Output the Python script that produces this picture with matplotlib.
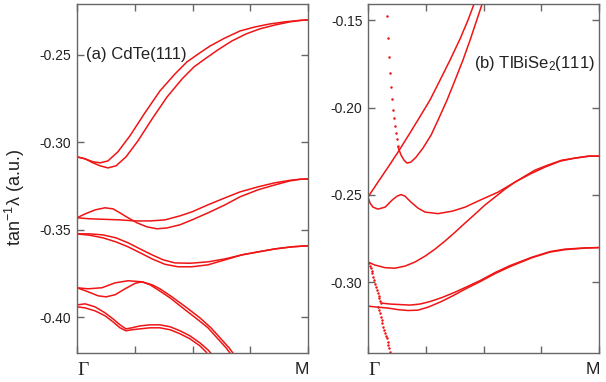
import numpy as np
import matplotlib
matplotlib.use('Agg')
import matplotlib.pyplot as plt

# ---- (a) CdTe(111) : k along Gamma-M (0..1), tan^-1(lambda) ----
a_k1 = [0, 0.035, 0.069, 0.100, 0.134, 0.177, 0.229, 0.294, 0.359, 0.424, 0.476, 0.519, 0.576, 0.641, 0.706, 0.771, 0.835, 0.900, 0.965, 1.0]
a_e1 = [-0.3083, -0.3094, -0.3111, -0.3117, -0.3106, -0.3054, -0.2963, -0.2831, -0.2706, -0.2609, -0.2540, -0.2500, -0.2449, -0.2403, -0.2363, -0.2340, -0.2323, -0.2311, -0.2303, -0.2300]
a_k2 = [0, 0.035, 0.069, 0.100, 0.134, 0.169, 0.212, 0.264, 0.325, 0.390, 0.455, 0.506, 0.554, 0.610, 0.671, 0.732, 0.792, 0.857, 0.922, 0.965, 1.0]
a_e2 = [-0.3083, -0.3094, -0.3117, -0.3134, -0.3146, -0.3134, -0.3083, -0.2991, -0.2866, -0.2740, -0.2637, -0.2569, -0.2523, -0.2471, -0.2420, -0.2380, -0.2351, -0.2329, -0.2311, -0.2303, -0.2300]
a_k3 = [0, 0.035, 0.078, 0.121, 0.156, 0.186, 0.221, 0.260, 0.303, 0.346, 0.390, 0.446, 0.498, 0.567, 0.641, 0.706, 0.784, 0.857, 0.922, 0.965, 1.0]
a_e3 = [-0.3431, -0.3409, -0.3386, -0.3374, -0.3380, -0.3403, -0.3431, -0.3460, -0.3483, -0.3494, -0.3489, -0.3471, -0.3443, -0.3403, -0.3357, -0.3311, -0.3271, -0.3243, -0.3220, -0.3211, -0.3209]
a_k4 = [0, 0.056, 0.121, 0.186, 0.251, 0.316, 0.381, 0.446, 0.498, 0.567, 0.641, 0.706, 0.784, 0.857, 0.922, 0.965, 1.0]
a_e4 = [-0.3431, -0.3437, -0.3440, -0.3443, -0.3449, -0.3449, -0.3443, -0.3420, -0.3397, -0.3357, -0.3317, -0.3283, -0.3254, -0.3231, -0.3217, -0.3211, -0.3209]
a_k5 = [0, 0.056, 0.113, 0.169, 0.221, 0.273, 0.325, 0.372, 0.424, 0.489, 0.567, 0.641, 0.714, 0.784, 0.857, 0.931, 1.0]
a_e5 = [-0.3523, -0.3523, -0.3529, -0.3546, -0.3574, -0.3609, -0.3643, -0.3671, -0.3689, -0.3691, -0.3683, -0.3666, -0.3643, -0.3626, -0.3609, -0.3597, -0.3591]
a_k6 = [0, 0.056, 0.113, 0.169, 0.221, 0.273, 0.325, 0.381, 0.437, 0.498, 0.567, 0.619, 0.671, 0.714, 0.784, 0.857, 0.931, 1.0]
a_e6 = [-0.3523, -0.3531, -0.3546, -0.3569, -0.3597, -0.3631, -0.3666, -0.3697, -0.3711, -0.3711, -0.3700, -0.3680, -0.3660, -0.3643, -0.3626, -0.3609, -0.3597, -0.3591]
a_k7 = [0, 0.048, 0.108, 0.165, 0.221, 0.281, 0.316, 0.351, 0.403, 0.468, 0.519, 0.567, 0.610, 0.645, 0.671]
a_e7 = [-0.3831, -0.3837, -0.3831, -0.3803, -0.3791, -0.3797, -0.3814, -0.3843, -0.3889, -0.3957, -0.4009, -0.4060, -0.4123, -0.4174, -0.4220]
a_k8 = [0, 0.048, 0.091, 0.126, 0.165, 0.208, 0.251, 0.281, 0.325, 0.359, 0.411, 0.476, 0.532, 0.580, 0.623, 0.658, 0.684]
a_e8 = [-0.3831, -0.3854, -0.3877, -0.3883, -0.3871, -0.3837, -0.3806, -0.3797, -0.3814, -0.3837, -0.3883, -0.3946, -0.4003, -0.4060, -0.4123, -0.4174, -0.4220]
a_k9 = [0, 0.035, 0.078, 0.121, 0.156, 0.186, 0.212, 0.238, 0.273, 0.316, 0.359, 0.403, 0.446, 0.489, 0.532, 0.567, 0.589]
a_e9 = [-0.3929, -0.3923, -0.3940, -0.3974, -0.4009, -0.4043, -0.4066, -0.4060, -0.4049, -0.4043, -0.4043, -0.4054, -0.4077, -0.4106, -0.4146, -0.4186, -0.4220]
a_k10 = [0, 0.035, 0.078, 0.121, 0.156, 0.186, 0.212, 0.238, 0.273, 0.316, 0.359, 0.403, 0.446, 0.489, 0.532, 0.558, 0.571]
a_e10 = [-0.3940, -0.3946, -0.3963, -0.3991, -0.4026, -0.4060, -0.4077, -0.4071, -0.4066, -0.4060, -0.4060, -0.4071, -0.4094, -0.4123, -0.4163, -0.4197, -0.4220]

# ---- (b) TlBiSe2(111) ----
b_k1 = [0, 0.043, 0.087, 0.130, 0.173, 0.221, 0.268, 0.312, 0.355, 0.398, 0.433, 0.459, 0.468]
b_e1 = [-0.2512, -0.2427, -0.2341, -0.2255, -0.2164, -0.2061, -0.1958, -0.1843, -0.1729, -0.1609, -0.1500, -0.1408, -0.1386]
b_k2 = [0.130, 0.143, 0.156, 0.169, 0.186, 0.208, 0.238, 0.273, 0.307, 0.342, 0.377, 0.411, 0.442, 0.468, 0.494, 0.500]
b_e2 = [-0.2226, -0.2272, -0.2301, -0.2318, -0.2312, -0.2284, -0.2232, -0.2158, -0.2061, -0.1958, -0.1843, -0.1729, -0.1614, -0.1511, -0.1408, -0.1386]
b_k3 = [0, 0.009, 0.022, 0.043, 0.074, 0.104, 0.126, 0.143, 0.160, 0.186, 0.216, 0.247, 0.303, 0.364, 0.420, 0.485, 0.563, 0.636, 0.701, 0.766, 0.831, 0.896, 0.961, 1.0]
b_e3 = [-0.2512, -0.2547, -0.2570, -0.2581, -0.2570, -0.2530, -0.2507, -0.2498, -0.2507, -0.2541, -0.2575, -0.2598, -0.2607, -0.2593, -0.2570, -0.2530, -0.2484, -0.2427, -0.2381, -0.2341, -0.2307, -0.2289, -0.2278, -0.2278]
b_k4 = [0, 0.030, 0.074, 0.117, 0.160, 0.203, 0.247, 0.290, 0.333, 0.377, 0.420, 0.463, 0.506, 0.550, 0.593, 0.636, 0.680, 0.723, 0.779, 0.840, 0.909, 0.952, 1.0]
b_e4 = [-0.2884, -0.2901, -0.2916, -0.2919, -0.2907, -0.2884, -0.2850, -0.2810, -0.2764, -0.2713, -0.2661, -0.2610, -0.2558, -0.2512, -0.2467, -0.2427, -0.2392, -0.2358, -0.2329, -0.2301, -0.2287, -0.2278, -0.2278]
b_k5 = [0.061, 0.095, 0.139, 0.182, 0.225, 0.268, 0.320, 0.377, 0.433, 0.485, 0.550, 0.615, 0.710, 0.788, 0.853, 0.939, 1.0]
b_e5 = [-0.3119, -0.3124, -0.3127, -0.3130, -0.3124, -0.3110, -0.3087, -0.3056, -0.3022, -0.2990, -0.2944, -0.2904, -0.2856, -0.2824, -0.2810, -0.2803, -0.2801]
b_k6 = [0, 0.043, 0.087, 0.130, 0.173, 0.216, 0.260, 0.312, 0.364, 0.420, 0.485, 0.550, 0.615, 0.710, 0.788, 0.853, 0.939, 1.0]
b_e6 = [-0.3136, -0.3142, -0.3147, -0.3156, -0.3161, -0.3159, -0.3142, -0.3113, -0.3079, -0.3039, -0.2996, -0.2950, -0.2910, -0.2859, -0.2827, -0.2813, -0.2804, -0.2801]
# sparse (steep) points
b_dk1 = [0.081, 0.085, 0.091, 0.095, 0.100, 0.103, 0.107, 0.111, 0.117, 0.121, 0.126, 0.131]
b_de1 = [-0.1475, -0.1605, -0.1710, -0.1801, -0.1885, -0.1954, -0.2015, -0.2062, -0.2106, -0.2145, -0.2182, -0.2221]
b_dk2 = [0.004, 0.008, 0.012, 0.016, 0.019, 0.023, 0.027, 0.031, 0.035, 0.039, 0.042, 0.046, 0.049, 0.053, 0.056]
b_de2 = [-0.2890, -0.2905, -0.2919, -0.2933, -0.2947, -0.2967, -0.2987, -0.3007, -0.3027, -0.3045, -0.3062, -0.3076, -0.3090, -0.3105, -0.3119]
b_dk3 = [0.045, 0.049, 0.052, 0.056, 0.059, 0.062, 0.066, 0.070, 0.074, 0.077, 0.081, 0.085, 0.088, 0.092, 0.095, 0.100]
b_de3 = [-0.3140, -0.3159, -0.3178, -0.3197, -0.3216, -0.3235, -0.3254, -0.3273, -0.3292, -0.3306, -0.3321, -0.3340, -0.3359, -0.3378, -0.3397, -0.3422]

plt.rcParams['font.family'] = ['Liberation Sans', 'DejaVu Sans']
plt.rcParams['mathtext.fontset'] = 'custom'
plt.rcParams['mathtext.rm'] = 'Liberation Sans'
plt.rcParams['mathtext.it'] = 'Liberation Sans'

red = '#f01414'
grey = '#666666'

fig = plt.figure(figsize=(6.06, 3.82), dpi=100)
ax1 = fig.add_axes([77/606, 29/382, 231/606, 349/382])
ax2 = fig.add_axes([368/606, 29/382, 231/606, 349/382])

for k, e in [(a_k1, a_e1), (a_k2, a_e2), (a_k3, a_e3), (a_k4, a_e4), (a_k5, a_e5),
             (a_k6, a_e6), (a_k7, a_e7), (a_k8, a_e8), (a_k9, a_e9), (a_k10, a_e10)]:
    ax1.plot(k, e, color=red, lw=1.1, solid_joinstyle='round')

for k, e in [(b_k1, b_e1), (b_k2, b_e2), (b_k3, b_e3), (b_k4, b_e4), (b_k5, b_e5), (b_k6, b_e6)]:
    ax2.plot(k, e, color=red, lw=1.1, solid_joinstyle='round')
for k, e in [(b_dk1, b_de1), (b_dk2, b_de2), (b_dk3, b_de3)]:
    ax2.plot(k, e, 'o', color=red, ms=1.8, mew=0)

ax1.set_ylim(-0.4204, -0.2209)
ax1.set_yticks([-0.40, -0.35, -0.30, -0.25])
ax2.set_ylim(-0.3404, -0.1408)
ax2.set_yticks([-0.30, -0.25, -0.20, -0.15])

for ax in (ax1, ax2):
    ax.set_xlim(0, 1)
    ax.set_xticks([0, 0.25, 0.5, 0.75, 1])
    ax.set_xticklabels([])
    ax.set_yticklabels(['%.2f' % v for v in ax.get_yticks()])
    ax.tick_params(direction='in', top=True, right=True, length=5, width=1,
                   color=grey, labelsize=10, labelcolor='#222222', pad=4)
    for s in ax.spines.values():
        s.set_color(grey)
        s.set_linewidth(1.0)
    # Gamma and M labels
    ax.text(0.0, -0.025, 'Γ', transform=ax.transAxes, ha='left', va='top',
            fontsize=14, family='Liberation Serif', color='#222222')
    ax.text(1.005, -0.025, 'M', transform=ax.transAxes, ha='right', va='top',
            fontsize=12.5, color='#222222')

ax1.text(0.04, -0.25, '(a) CdTe(111)', ha='left', va='center', fontsize=12, color='#222222')
ax2.text(0.98, -0.1746, '(b) TlBiSe$_2$(111)', ha='right', va='center', fontsize=12, color='#222222')

ax1.set_ylabel('tan$^{-1}$λ (a.u.)', fontsize=13, color='#222222')
ax1.yaxis.set_label_coords(-0.215, 0.445)

fig.savefig('out.png', dpi=100)
